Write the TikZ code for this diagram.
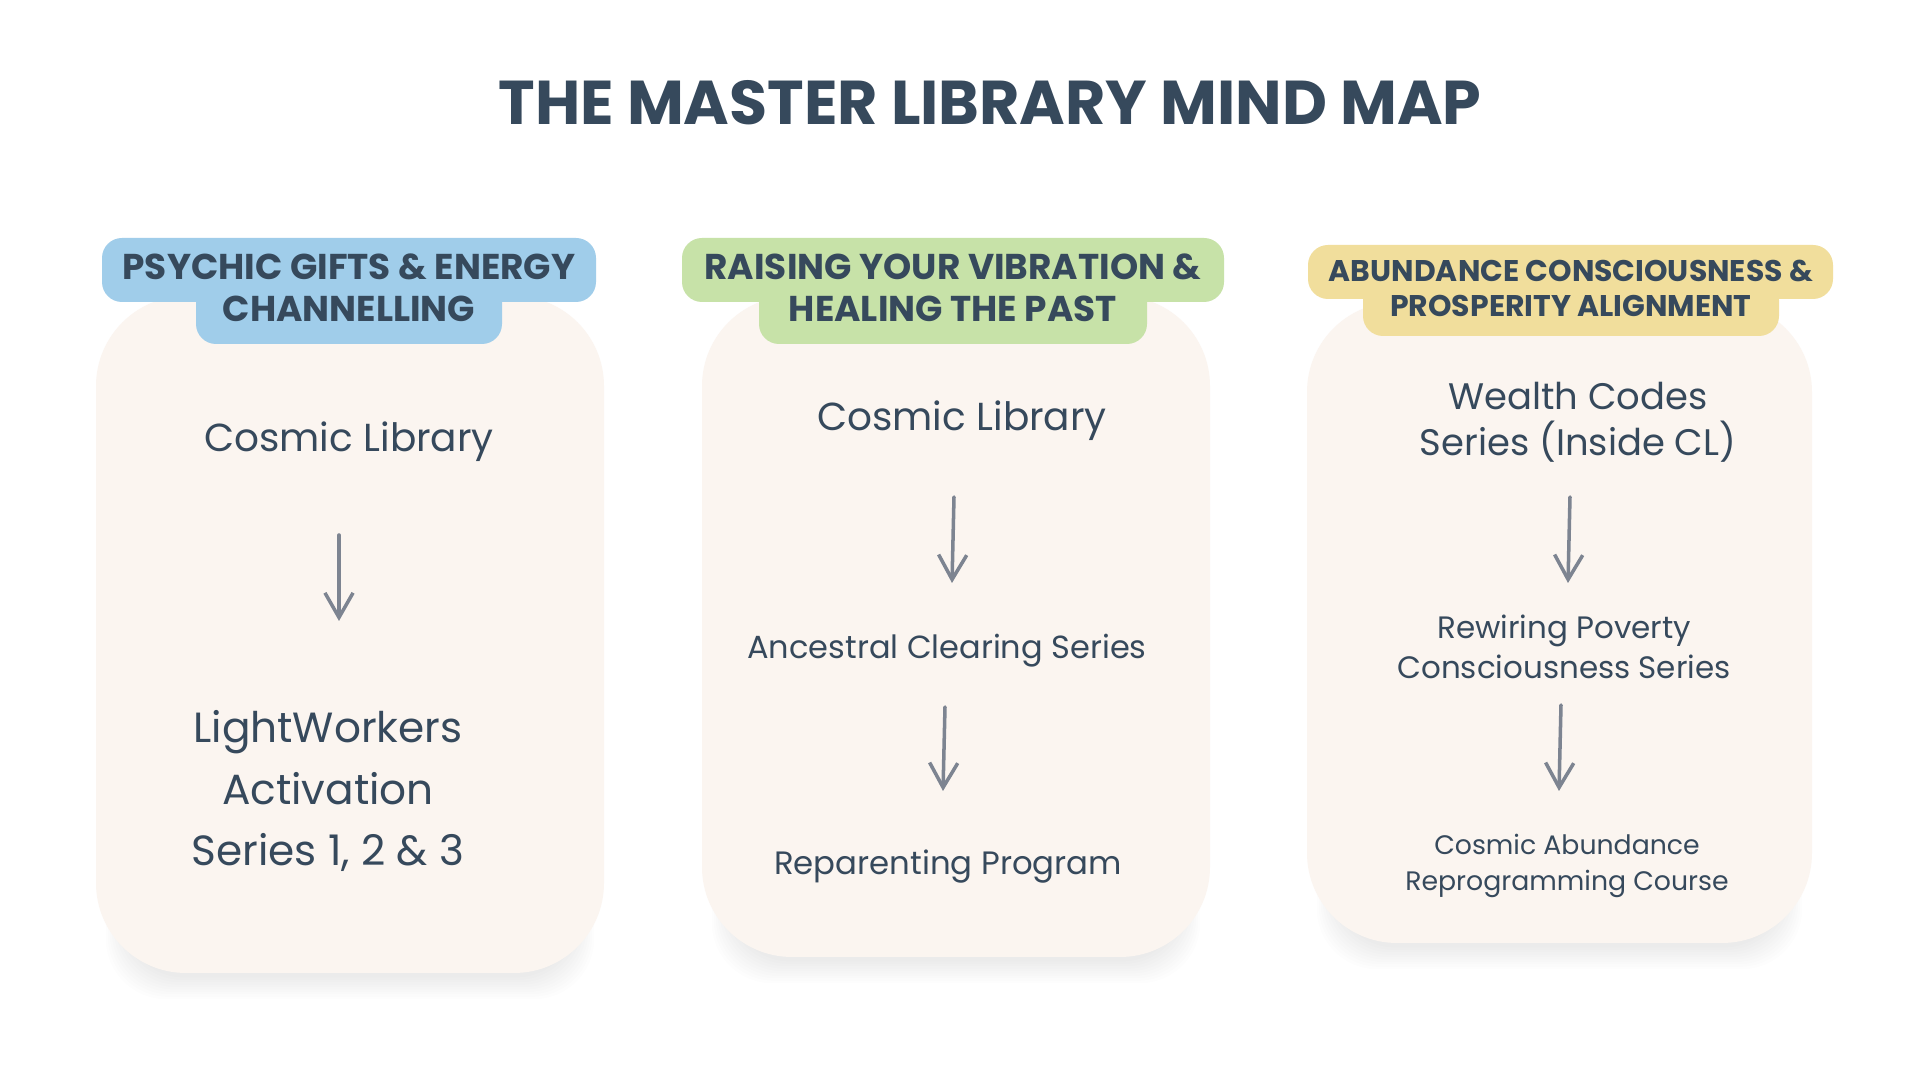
\documentclass[tikz,border=0pt]{standalone}
\usepackage{fontspec}
\setmainfont{Poppins}
\usetikzlibrary{arrows.meta,calc}
\definecolor{ink}{HTML}{36495C}
\definecolor{hblue}{HTML}{A0CDEA}
\definecolor{hgreen}{HTML}{C7E2A8}
\definecolor{hyellow}{HTML}{F1DE9C}
\definecolor{boxc}{HTML}{FBF5F0}
\definecolor{arrc}{HTML}{7D8491}
\definecolor{shad}{HTML}{5A6478}
\tikzset{
  colbox/.style={fill=boxc, rounded corners=0.9cm},
  hdr/.style={rounded corners=0.2cm},
  htext/.style={text=ink, align=center, inner sep=0pt},
  body/.style={text=ink, align=center, inner sep=0pt},
  arr/.style={draw=arrc, line width=1pt, line cap=round, -{Straight Barb[length=7pt,width=8pt,line width=1pt]}},
}
\newcommand{\softshadow}[4]{%
  \foreach \i in {0,...,9} {
    \fill[shad, opacity=0.012, rounded corners=0.6cm]
      (#1+10+2*\i, #2+60+\i*2) rectangle (#3-10-2*\i, #4+26-2.4*\i);
  }}
\begin{document}
\begin{tikzpicture}[x=0.01cm,y=-0.01cm]
\fill[white] (0,0) rectangle (1920,1080);
\useasboundingbox (0,0) rectangle (1920,1080);

% title
\node[text=ink, font=\bfseries\fontsize{17.6}{20}\selectfont, inner sep=0pt] (title) at (990,103) {THE MASTER LIBRARY MIND MAP};

% shadows
\softshadow{96}{700}{604}{973}
\softshadow{702}{700}{1210}{957}
\softshadow{1307}{700}{1812}{943}

% column boxes
\fill[colbox] (96,296) rectangle (604,973);
\fill[colbox] (702,296) rectangle (1210,957);
\fill[colbox] (1307,302) rectangle (1812,943);

% headers
\fill[hblue, hdr] (102,238) rectangle (596,302);
\fill[hblue, hdr] (196,280) rectangle (502,344);
\fill[hgreen, hdr] (682,238) rectangle (1224,302);
\fill[hgreen, hdr] (759,280) rectangle (1147,344);
\fill[hyellow, hdr] (1308,245) rectangle (1833,299);
\fill[hyellow, hdr] (1363,280) rectangle (1779,336);

\node[htext, font=\bfseries\fontsize{10.2}{12}\selectfont] (h1) at (349,288) {PSYCHIC GIFTS \& ENERGY\\CHANNELLING};
\node[htext, font=\bfseries\fontsize{10.2}{12}\selectfont] (h2) at (953,288) {RAISING YOUR VIBRATION \&\\HEALING THE PAST};
\node[htext, font=\bfseries\fontsize{8.5}{10}\selectfont] (h3) at (1571,288) {ABUNDANCE CONSCIOUSNESS \&\\PROSPERITY ALIGNMENT};

% column 1
\node[body, font=\fontsize{11.1}{14}\selectfont] (cl1) at (349,442) {Cosmic Library};
\node[body, font=\fontsize{12}{17.6}\selectfont] (lw1) at (328,791) {LightWorkers\\Activation\\Series 1, 2 \& 3};
\draw[arr] ($(cl1.center)+(-10,93)$) -- ($(lw1.center)+(11,-170)$);

% column 2
\node[body, font=\fontsize{11.1}{14}\selectfont] (cl2) at (962,421) {Cosmic Library};
\node[body, font=\fontsize{9.1}{12}\selectfont] (ac2) at (947,651) {Ancestral Clearing Series};
\node[body, font=\fontsize{9.2}{12}\selectfont] (rp2) at (948,867) {Reparenting Program};
\draw[arr] ($(cl2.center)+(-8,76)$) -- ($(ac2.center)+(5,-68)$);
\draw[arr] ($(ac2.center)+(-2,56)$) -- ($(rp2.center)+(-5,-76)$);

% column 3
\node[body, font=\fontsize{10.5}{13}\selectfont] (wc3) at (1578,422) {Wealth Codes\\Series (Inside CL)};
\node[body, font=\fontsize{8.8}{11.4}\selectfont] (rw3) at (1564,647) {Rewiring Poverty\\Consciousness Series};
\node[body, font=\fontsize{7.6}{10}\selectfont] (ca3) at (1567,866) {Cosmic Abundance\\Reprogramming Course};
\draw[arr] ($(wc3.center)+(-8,75)$) -- ($(rw3.center)+(4,-64)$);
\draw[arr] ($(rw3.center)+(-3,58)$) -- ($(ca3.center)+(-8,-75)$);
\end{tikzpicture}
\end{document}
